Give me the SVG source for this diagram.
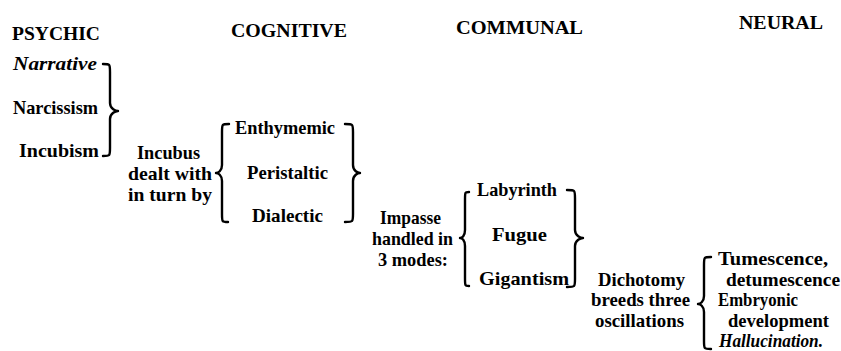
<svg xmlns="http://www.w3.org/2000/svg" width="841" height="351" viewBox="0 0 841 351" font-family="'Liberation Serif', 'Times New Roman', serif" font-weight="bold">
<style>
text{font-family:'Liberation Serif','Times New Roman',serif;font-weight:bold;fill:#000;font-size:19px}
.h{font-size:19.5px}
.i{font-style:italic}
.brace{fill:none;stroke:#000;stroke-width:2.4;stroke-linecap:round;stroke-linejoin:round}
</style>
<rect width="841" height="351" fill="#fff"/>
<g id="headers">
<text id="psychic" class="h" x="12" y="40" textLength="88" lengthAdjust="spacingAndGlyphs">PSYCHIC</text>
<text id="cognitive" class="h" x="231" y="37" textLength="116" lengthAdjust="spacingAndGlyphs">COGNITIVE</text>
<text id="communal" class="h" x="456" y="34" textLength="127" lengthAdjust="spacingAndGlyphs">COMMUNAL</text>
<text id="neural" class="h" x="739" y="29" textLength="84" lengthAdjust="spacingAndGlyphs">NEURAL</text>
</g>
<g id="psychic-items">
<text class="i" x="13" y="70" textLength="84" lengthAdjust="spacingAndGlyphs">Narrative</text>
<text x="13" y="114" textLength="85" lengthAdjust="spacingAndGlyphs">Narcissism</text>
<text x="19" y="157" textLength="80" lengthAdjust="spacingAndGlyphs">Incubism</text>
</g>
<g id="incubus">
<text x="137" y="159" textLength="63" lengthAdjust="spacingAndGlyphs">Incubus</text>
<text x="128" y="180" textLength="84" lengthAdjust="spacingAndGlyphs">dealt with</text>
<text x="128" y="201" textLength="84" lengthAdjust="spacingAndGlyphs">in turn by</text>
</g>
<g id="cognitive-items">
<text x="235" y="134" textLength="100" lengthAdjust="spacingAndGlyphs">Enthymemic</text>
<text x="247" y="179" textLength="81" lengthAdjust="spacingAndGlyphs">Peristaltic</text>
<text x="252" y="222" textLength="71" lengthAdjust="spacingAndGlyphs">Dialectic</text>
</g>
<g id="impasse">
<text x="380" y="224" textLength="61" lengthAdjust="spacingAndGlyphs">Impasse</text>
<text x="372" y="245" textLength="81" lengthAdjust="spacingAndGlyphs">handled in</text>
<text x="378" y="266" textLength="70" lengthAdjust="spacingAndGlyphs">3 modes:</text>
</g>
<g id="communal-items">
<text x="477" y="196" textLength="80" lengthAdjust="spacingAndGlyphs">Labyrinth</text>
<text x="492" y="241" textLength="55" lengthAdjust="spacingAndGlyphs">Fugue</text>
<text x="479" y="285" textLength="90" lengthAdjust="spacingAndGlyphs">Gigantism</text>
</g>
<g id="dichotomy">
<text x="598" y="286" textLength="87" lengthAdjust="spacingAndGlyphs">Dichotomy</text>
<text x="591" y="306" textLength="99" lengthAdjust="spacingAndGlyphs">breeds three</text>
<text x="595" y="327" textLength="89" lengthAdjust="spacingAndGlyphs">oscillations</text>
</g>
<g id="neural-items">
<text x="718" y="265" textLength="110" lengthAdjust="spacingAndGlyphs">Tumescence,</text>
<text x="726" y="286" textLength="114" lengthAdjust="spacingAndGlyphs">detumescence</text>
<text x="718" y="306" textLength="80" lengthAdjust="spacingAndGlyphs">Embryonic</text>
<text x="728" y="327" textLength="101" lengthAdjust="spacingAndGlyphs">development</text>
<text class="i" x="719" y="347" textLength="104" lengthAdjust="spacingAndGlyphs">Hallucination.</text>
</g>
<g id="connectors">
<path class="brace" d="M103 64 C110 64,110 64,110 72 L110 103 C110 109,116 111,118 111 C116 111,110 113,110 119 L110 148 C110 156,110 156,103 156"/>
<path class="brace" d="M229 124 C222 124,222 124,222 132 L222 165 C222 171,218 173,216 173 C218 173,222 175,222 181 L222 214 C222 222,222 222,228 222"/>
<path class="brace" d="M345 124 C353 124,353 124,353 132 L353 165 C353 171,358 173,360 173 C358 173,353 175,353 181 L353 214 C353 222,353 222,345 222"/>
<path class="brace" d="M469 192 C465 192,465 192,465 200 L465 230 C465 236,462 238,460 238 C462 238,465 240,465 246 L465 278 C465 286,465 286,469 286"/>
<path class="brace" d="M567 190 C575 190,575 190,575 198 L575 230 C575 236,581 238,583 238 C581 238,575 240,575 246 L575 279 C575 287,575 287,567 287"/>
<path class="brace" d="M711 257 C704 257,704 257,704 265 L704 296 C704 302,700 304,698 304 C700 304,704 306,704 312 L704 341 C704 349,704 349,711 349"/>
</g>
</svg>
